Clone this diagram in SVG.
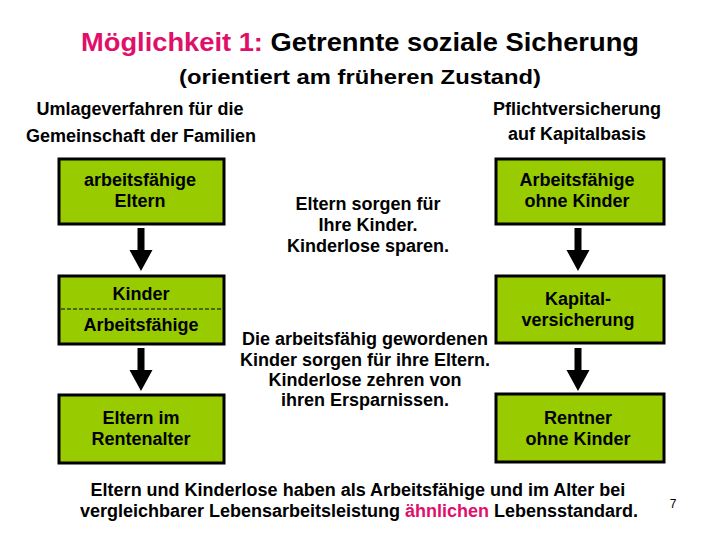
<svg xmlns="http://www.w3.org/2000/svg" width="720" height="540" viewBox="0 0 720 540">
<defs>
<style>
text{font-family:"Liberation Sans",Arial,sans-serif;fill:#000;text-anchor:middle}
.b{font-weight:bold;font-size:18px}
.box{fill:#99CC00;stroke:#000;stroke-width:3}
.pink{fill:#E0106A}
.arr{fill:#000}
</style>
</defs>
<rect width="720" height="540" fill="#fff"/>
<g id="title">
<text x="360" y="51" style="font-size:25px;font-weight:bold" textLength="558" lengthAdjust="spacingAndGlyphs"><tspan class="pink">Möglichkeit 1:</tspan> Getrennte soziale Sicherung</text>
<text x="360" y="84" style="font-size:21px;font-weight:bold" textLength="362" lengthAdjust="spacingAndGlyphs">(orientiert am früheren Zustand)</text>
</g>
<g id="head-left"><text class="b" x="140" y="115">Umlageverfahren für die</text><text class="b" x="141" y="142">Gemeinschaft der Familien</text></g>
<g id="head-right"><text class="b" x="577" y="115">Pflichtversicherung</text><text class="b" x="577" y="140">auf Kapitalbasis</text></g>
<g id="n1"><rect class="box" x="59" y="159" width="165" height="65"/><text class="b" x="140" y="186">arbeitsfähige</text><text class="b" x="140" y="207">Eltern</text></g>
<g id="n2"><rect class="box" x="59" y="276" width="165" height="68"/><text class="b" x="141" y="300">Kinder</text><line x1="61" y1="309" x2="222" y2="309" stroke="#000" stroke-width="1.2" stroke-dasharray="4,2"/><text class="b" x="141" y="331">Arbeitsfähige</text></g>
<g id="n3"><rect class="box" x="59" y="395" width="165" height="68"/><text class="b" x="141" y="424">Eltern im</text><text class="b" x="141" y="445">Rentenalter</text></g>
<g id="n4"><rect class="box" x="496" y="159" width="168" height="65"/><text class="b" x="577" y="186">Arbeitsfähige</text><text class="b" x="577" y="207">ohne Kinder</text></g>
<g id="n5"><rect class="box" x="496" y="276" width="168" height="67"/><text class="b" x="578" y="305">Kapital-</text><text class="b" x="578" y="326">versicherung</text></g>
<g id="n6"><rect class="box" x="496" y="394" width="168" height="68"/><text class="b" x="578" y="424">Rentner</text><text class="b" x="578" y="445">ohne Kinder</text></g>
<g id="mid1"><text class="b" x="368" y="210">Eltern sorgen für</text><text class="b" x="368" y="231">Ihre Kinder.</text><text class="b" x="368" y="252">Kinderlose sparen.</text></g>
<g id="mid2"><text class="b" x="365" y="345">Die arbeitsfähig gewordenen</text><text class="b" x="365" y="366">Kinder sorgen für ihre Eltern.</text><text class="b" x="365" y="386">Kinderlose zehren von</text><text class="b" x="365" y="406">ihren Ersparnissen.</text></g>
<g id="connectors">
<path class="arr" d="M137.5 228h7v22h8l-11.5 21l-11.5 -21h8z"/>
<path class="arr" d="M137.5 348h7v22h8l-11.5 21l-11.5 -21h8z"/>
<path class="arr" d="M574.5 228h7v22h8l-11.5 21l-11.5 -21h8z"/>
<path class="arr" d="M574.5 348h7v22h8l-11.5 21l-11.5 -21h8z"/>
</g>
<g id="footer">
<text class="b" x="358" y="496">Eltern und Kinderlose haben als Arbeitsfähige und im Alter bei</text>
<text class="b" x="359" y="517">vergleichbarer Lebensarbeitsleistung <tspan class="pink">ähnlichen</tspan> Lebensstandard.</text>
<text x="673" y="508" style="font-size:12px">7</text>
</g>
</svg>
